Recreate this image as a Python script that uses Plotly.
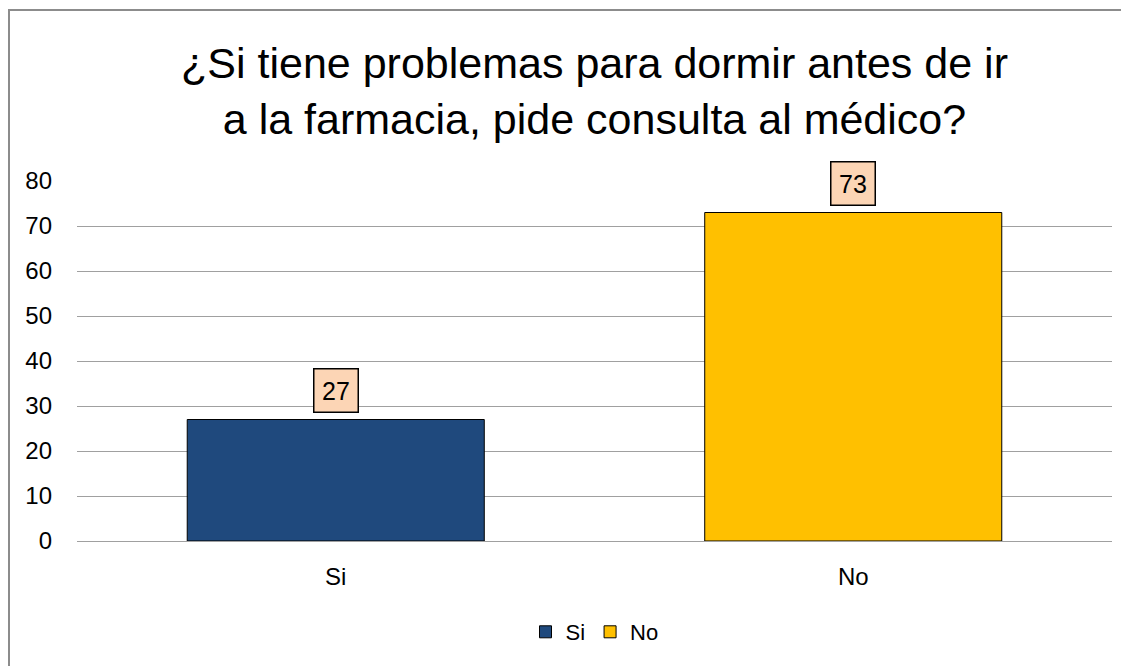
import plotly.graph_objects as go

categories = ["Si", "No"]
values = [27, 73]
colors = ["#1F497D", "#FFC000"]
title_text = "¿Si tiene problemas para dormir antes de ir<br>a la farmacia, pide consulta al médico?"
y_ticks = [0, 10, 20, 30, 40, 50, 60, 70, 80]

W, H = 1121, 658
L, R, T, B = 69, 17, 173, 125
pw, ph = W - L - R, H - T - B
FONT = "Liberation Sans"

fig = go.Figure()
for c, v, col in zip(categories, values, colors):
    fig.add_trace(go.Bar(x=[c], y=[v], name=c, marker=dict(color=col, line=dict(color="black", width=1)),
                         width=0.574, hoverinfo="skip"))
    fig.add_annotation(x=c, y=v, text=str(v), showarrow=False, yanchor="bottom", yshift=7,
                       width=43, height=42, borderpad=0,
                       bgcolor="#FCD5B5", bordercolor="black", borderwidth=1.5,
                       font=dict(size=25, color="black", family=FONT))

# outer chart frame (only top and left edges are visible)
fig.add_shape(type="rect", xref="paper", yref="paper",
              x0=(1 - L) / pw, x1=(W + 20 - L) / pw, y0=(H - B - (H + 20)) / ph, y1=(H - B - 2) / ph,
              line=dict(color="#8C8C8C", width=2), fillcolor="rgba(0,0,0,0)", layer="below")

fig.update_layout(
    width=W, height=H,
    margin=dict(l=L, r=R, t=T, b=B),
    paper_bgcolor="white", plot_bgcolor="white",
    barmode="overlay",
    title=dict(text=title_text, x=0.5, xref="paper", xanchor="center", y=0.894, yanchor="middle",
               font=dict(size=43, color="black", family=FONT)),
    font=dict(family=FONT, color="black", size=24),
    showlegend=True,
    legend=dict(orientation="h", x=0.5, xanchor="center", y=(H - B - 624) / ph, yanchor="middle",
                font=dict(size=22), itemwidth=30, traceorder="normal"),
    xaxis=dict(showgrid=False, showline=False, ticks="", tickfont=dict(size=24), ticklabelstandoff=19),
    yaxis=dict(range=[0, 80], tickvals=y_ticks, showgrid=True, gridcolor="#A0A0A0", gridwidth=1,
               zeroline=True, zerolinecolor="#A0A0A0", zerolinewidth=1, showline=False,
               tickfont=dict(size=24), ticklabelstandoff=24),
)

fig.write_html("out.html")
